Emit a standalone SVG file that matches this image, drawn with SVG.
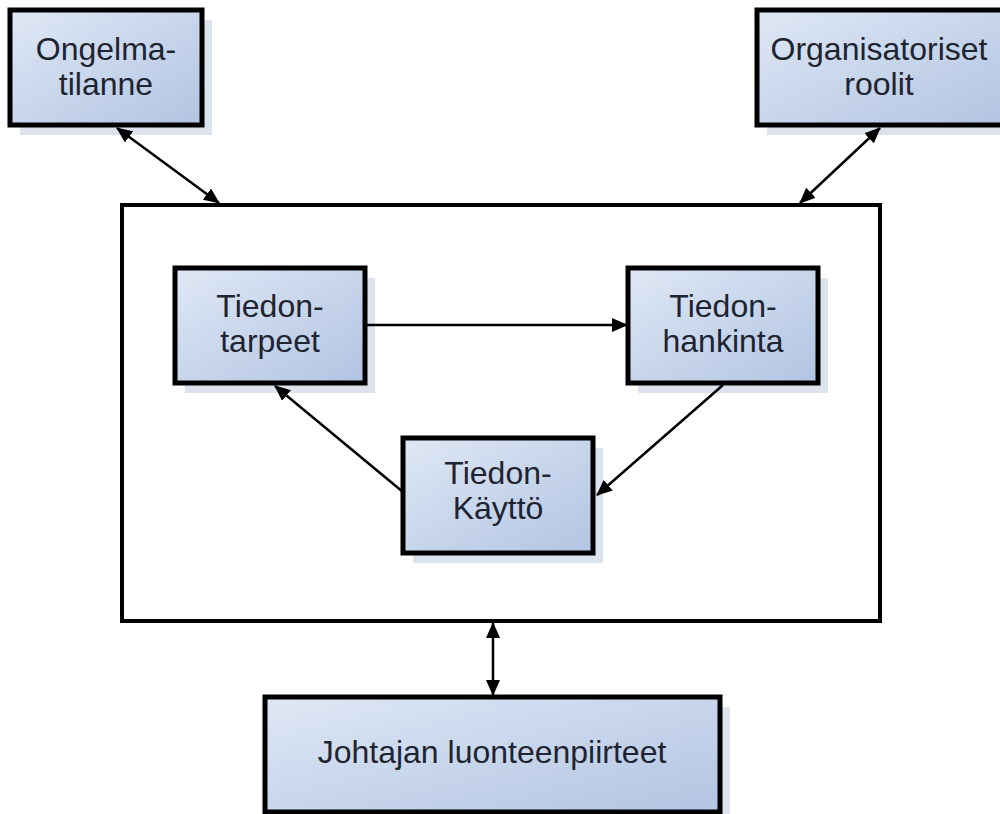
<svg xmlns="http://www.w3.org/2000/svg" width="1000" height="814" viewBox="0 0 1000 814">
<defs>
<linearGradient id="fillg" x1="0" y1="0" x2="1" y2="1">
<stop offset="0" stop-color="#dfe8f5"/>
<stop offset="1" stop-color="#b1c4e2"/>
</linearGradient>
<marker id="ah" viewBox="0 0 16 14" refX="15" refY="7" markerWidth="16" markerHeight="14" markerUnits="userSpaceOnUse" orient="auto-start-reverse">
<path d="M0,0 L16,7 L0,14 Z" fill="#000"/>
</marker>
<style>
.shadow{fill:#dce3ee;stroke:none}
.box{fill:url(#fillg);stroke:#000;stroke-width:5}
.frame{fill:#fff;stroke:#000;stroke-width:4}
.lbl{font-family:"Liberation Sans",Arial,sans-serif;font-size:32px;fill:#1e2430;text-anchor:middle}
.con{stroke:#000;stroke-width:2.5;fill:none}
</style>
</defs>
<rect width="1000" height="814" fill="#fff"/>
<g id="frame">
<rect class="frame" x="122" y="205" width="758" height="416"/>
</g>
<g id="ongelmatilanne">
<rect class="shadow" x="20" y="20" width="192" height="115"/>
<rect class="box" x="10" y="10" width="192" height="115"/>
<text class="lbl" x="106" y="60">Ongelma-</text>
<text class="lbl" x="106" y="95">tilanne</text>
</g>
<g id="organisatoriset">
<rect class="shadow" x="767" y="20" width="246" height="115"/>
<rect class="box" x="757" y="10" width="246" height="115"/>
<text class="lbl" x="879" y="60">Organisatoriset</text>
<text class="lbl" x="879" y="95">roolit</text>
</g>
<g id="tarpeet">
<rect class="shadow" x="185" y="278" width="190" height="115"/>
<rect class="box" x="175" y="268" width="190" height="115"/>
<text class="lbl" x="270" y="317">Tiedon-</text>
<text class="lbl" x="270" y="352">tarpeet</text>
</g>
<g id="hankinta">
<rect class="shadow" x="638" y="278" width="190" height="115"/>
<rect class="box" x="628" y="268" width="190" height="115"/>
<text class="lbl" x="723" y="317">Tiedon-</text>
<text class="lbl" x="723" y="352">hankinta</text>
</g>
<g id="kaytto">
<rect class="shadow" x="413" y="448" width="190" height="115"/>
<rect class="box" x="403" y="438" width="190" height="115"/>
<text class="lbl" x="498" y="484">Tiedon-</text>
<text class="lbl" x="498" y="519">Käyttö</text>
</g>
<g id="johtajan">
<rect class="shadow" x="275" y="707" width="455" height="115"/>
<rect class="box" x="265" y="697" width="455" height="115"/>
<text class="lbl" x="492" y="763">Johtajan luonteenpiirteet</text>
</g>
<g id="connectors">
<line class="con" x1="117" y1="128" x2="219" y2="203" marker-start="url(#ah)" marker-end="url(#ah)"/>
<line class="con" x1="880" y1="128" x2="800" y2="203" marker-start="url(#ah)" marker-end="url(#ah)"/>
<line class="con" x1="493" y1="623" x2="493" y2="695" marker-start="url(#ah)" marker-end="url(#ah)"/>
<line class="con" x1="367" y1="325" x2="627" y2="325" marker-end="url(#ah)"/>
<line class="con" x1="723" y1="385" x2="597" y2="495" marker-end="url(#ah)"/>
<line class="con" x1="403" y1="492" x2="275" y2="386" marker-end="url(#ah)"/>
</g>
</svg>
